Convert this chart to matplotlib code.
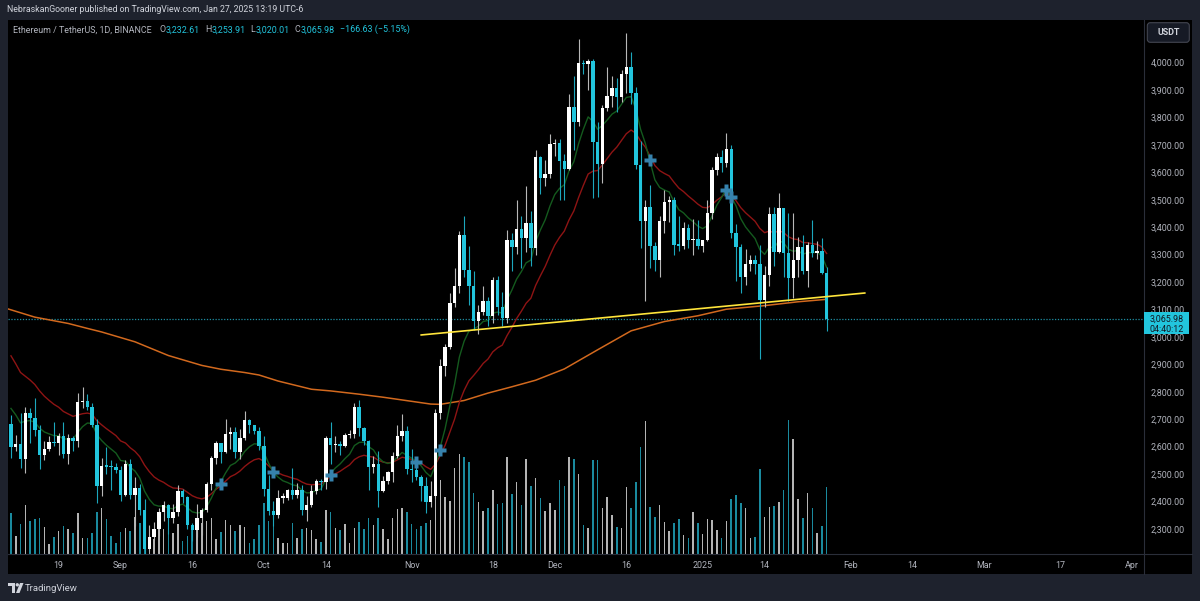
import numpy as np
import pandas as pd
import matplotlib.pyplot as plt
import matplotlib.dates as mdates
from matplotlib.patches import Rectangle, FancyBboxPatch, Polygon, Circle
from matplotlib.ticker import FuncFormatter
from matplotlib.transforms import IdentityTransform

plt.rcParams['font.family'] = ['Roboto', 'DejaVu Sans']

W, H = 1200, 601

# ETH/USDT daily candles, 2024-08-09 .. 2025-01-27
dates = pd.date_range('2024-08-09', '2025-01-27', freq='D')

opens = [
    2681, 2600, 2610, 2555, 2722, 2703, 2662, 2570, 2590, 2615, 2612, 2637, 2573, 2630, 2622, 2762, 2768, 2745, 2680, 2456, 2528, 2527, 2526,
    2513, 2425, 2538, 2423, 2450, 2368, 2225, 2272, 2298, 2360, 2388, 2340, 2360, 2437, 2417, 2315, 2295, 2340, 2370, 2465, 2560, 2613, 2580, 2646, 2653, 2580, 2632, 2697, 2677, 2658,
    2602, 2447, 2364, 2349, 2414, 2414, 2440, 2423, 2440, 2370, 2386, 2437, 2475, 2469, 2630, 2607, 2611, 2603, 2642, 2647, 2745, 2666, 2621, 2524, 2535, 2438, 2475, 2508, 2567, 2640, 2658,
    2518, 2513, 2490, 2458, 2398, 2421, 2722, 2895, 2962, 3125, 3185, 3370, 3245, 3187, 3058, 3091, 3132, 3076, 3207, 3108, 3070, 3354, 3327, 3393, 3361, 3415, 3325, 3656, 3578, 3593,
    3703, 3707, 3643, 3614, 3837, 3785, 4000, 3996, 4005, 3710, 3629, 3835, 3880, 3908, 3875, 3959, 3986, 3890, 3628, 3421, 3475, 3333, 3280, 3421, 3492, 3498, 3334, 3333, 3398, 3352, 3358,
    3332, 3354, 3451, 3607, 3657, 3635, 3686, 3380, 3327, 3219, 3266, 3282, 3265, 3134, 3225, 3449, 3310, 3470, 3306, 3214, 3280, 3328, 3239, 3336, 3306, 3315, 3232.61,
]
highs = [
    2714, 2642, 2721, 2745, 2740, 2778, 2680, 2620, 2640, 2690, 2650, 2690, 2645, 2640, 2795, 2818, 2790, 2760, 2700, 2560, 2600, 2550, 2540,
    2528, 2550, 2555, 2490, 2465, 2407, 2315, 2325, 2375, 2400, 2390, 2390, 2460, 2445, 2420, 2320, 2389, 2375, 2470, 2565, 2620, 2614, 2700, 2670, 2670, 2665, 2728, 2700, 2680, 2670,
    2640, 2495, 2403, 2441, 2430, 2445, 2521, 2467, 2460, 2420, 2460, 2480, 2480, 2640, 2688, 2640, 2620, 2650, 2660, 2760, 2770, 2672, 2625, 2567, 2585, 2494, 2512, 2580, 2680, 2720, 2675,
    2590, 2546, 2495, 2489, 2473, 2738, 2919, 2974, 3160, 3250, 3386, 3441, 3330, 3240, 3115, 3185, 3145, 3220, 3222, 3165, 3390, 3380, 3500, 3440, 3550, 3460, 3682, 3660, 3645, 3740,
    3720, 3720, 3668, 3886, 3950, 4085, 4010, 4014, 4012, 3785, 3845, 3985, 3950, 3943, 3975, 4107, 4040, 3910, 3714, 3500, 3554, 3347, 3440, 3535, 3515, 3510, 3440, 3420, 3410, 3430, 3428,
    3355, 3500, 3620, 3670, 3680, 3745, 3700, 3410, 3340, 3322, 3300, 3300, 3335, 3260, 3474, 3472, 3525, 3470, 3450, 3451, 3365, 3370, 3345, 3426, 3350, 3359, 3253.91,
]
lows = [
    2559, 2583, 2523, 2505, 2612, 2637, 2520, 2550, 2585, 2603, 2570, 2560, 2535, 2585, 2600, 2740, 2735, 2670, 2395, 2421, 2500, 2440, 2505,
    2400, 2418, 2410, 2310, 2350, 2205, 2220, 2260, 2275, 2330, 2280, 2320, 2345, 2393, 2300, 2255, 2272, 2278, 2360, 2440, 2535, 2540, 2577, 2590, 2560, 2555, 2625, 2650, 2645, 2588,
    2420, 2350, 2310, 2338, 2396, 2405, 2410, 2412, 2352, 2330, 2380, 2428, 2440, 2447, 2537, 2580, 2570, 2600, 2630, 2632, 2640, 2605, 2440, 2505, 2380, 2433, 2465, 2470, 2557, 2622, 2500,
    2470, 2479, 2400, 2356, 2380, 2412, 2700, 2857, 2954, 3110, 3160, 3217, 3115, 3025, 3010, 3080, 3040, 3050, 3080, 3040, 3050, 3240, 3302, 3250, 3311, 3260, 3300, 3520, 3550, 3580,
    3660, 3500, 3500, 3610, 3680, 3770, 3960, 3900, 3507, 3511, 3560, 3825, 3840, 3820, 3855, 3890, 3850, 3611, 3323, 3130, 3250, 3240, 3220, 3380, 3420, 3300, 3315, 3320, 3325, 3300, 3320,
    3310, 3350, 3430, 3590, 3600, 3620, 3360, 3205, 3160, 3190, 3240, 3230, 2920, 3110, 3186, 3260, 3305, 3220, 3130, 3141, 3220, 3230, 3183, 3292, 3285, 3230, 3020.01,
]
closes = [
    2600, 2610, 2555, 2722, 2703, 2662, 2570, 2590, 2615, 2612, 2637, 2573, 2630, 2622, 2762, 2768, 2745, 2680, 2456, 2528, 2527, 2526, 2513,
    2425, 2538, 2423, 2450, 2368, 2225, 2272, 2298, 2360, 2388, 2340, 2360, 2437, 2417, 2315, 2295, 2340, 2370, 2465, 2560, 2613, 2580, 2646, 2653, 2580, 2632, 2697, 2677, 2658, 2602,
    2447, 2364, 2349, 2414, 2414, 2440, 2423, 2440, 2370, 2386, 2437, 2475, 2469, 2630, 2607, 2611, 2603, 2642, 2647, 2745, 2666, 2621, 2524, 2535, 2438, 2475, 2508, 2567, 2640, 2658, 2518,
    2513, 2490, 2458, 2398, 2421, 2722, 2895, 2962, 3125, 3185, 3370, 3245, 3187, 3058, 3091, 3132, 3076, 3207, 3108, 3070, 3354, 3327, 3393, 3361, 3415, 3325, 3656, 3578, 3593, 3703,
    3707, 3643, 3614, 3837, 3785, 4000, 3996, 4005, 3710, 3629, 3835, 3880, 3908, 3875, 3959, 3986, 3890, 3628, 3421, 3475, 3333, 3280, 3421, 3492, 3498, 3334, 3333, 3398, 3352, 3358, 3332,
    3354, 3451, 3607, 3657, 3635, 3686, 3380, 3327, 3219, 3266, 3282, 3265, 3134, 3225, 3449, 3310, 3470, 3306, 3214, 3280, 3328, 3239, 3336, 3306, 3315, 3232.61, 3065.98,
]
# volume, thousand ETH
volumes = [
    417, 183, 300, 490, 330, 350, 360, 277, 100, 177, 230, 283, 250, 210, 410, 167, 163, 217, 423, 460, 350, 183, 110,
    227, 267, 233, 377, 317, 433, 183, 150, 330, 250, 350, 210, 300, 133, 183, 267, 277, 317, 330, 367, 150, 223, 343, 290, 233, 290, 277, 117, 150, 290,
    510, 330, 367, 167, 110, 117, 310, 167, 250, 267, 243, 150, 123, 443, 423, 267, 243, 300, 110, 267, 323, 257, 360, 290, 367, 257, 150, 367, 457, 467, 423,
    300, 250, 283, 310, 340, 700, 740, 577, 533, 867, 1000, 973, 923, 617, 523, 433, 460, 643, 500, 510, 973, 607, 723, 490, 950, 683, 760, 567, 433, 510,
    440, 740, 683, 973, 950, 807, 290, 260, 943, 943, 467, 577, 390, 277, 260, 677, 460, 723, 1077, 1333, 477, 373, 493, 327, 230, 317, 350, 190, 167, 427, 310,
    200, 350, 340, 240, 167, 333, 550, 590, 510, 460, 160, 173, 850, 377, 477, 483, 527, 640, 1340, 1157, 557, 360, 617, 467, 217, 283, 673,
]

# EMA seeds (value on 2024-08-08)
ema_fast_seed, ema_slow_seed = 2770, 2964

# slow moving average (orange), sampled from chart
ma_long_dates = ['2024-08-08', '2024-08-14', '2024-08-21', '2024-08-25', '2024-08-28', '2024-09-04',
                 '2024-09-11', '2024-09-18', '2024-09-22', '2024-09-27', '2024-09-30', '2024-10-04',
                 '2024-10-11', '2024-10-15', '2024-10-21', '2024-10-26', '2024-11-01', '2024-11-05',
                 '2024-11-07', '2024-11-12', '2024-11-17', '2024-11-22', '2024-11-27', '2024-12-03',
                 '2024-12-10', '2024-12-17', '2024-12-24', '2024-12-31', '2025-01-06', '2025-01-14',
                 '2025-01-21', '2025-01-27']
ma_long_vals = [3104, 3072, 3049, 3031, 3018, 2982, 2932, 2896, 2882, 2870, 2861, 2839, 2809, 2803,
                2791, 2780, 2765, 2755, 2754, 2768, 2795, 2818, 2842, 2883, 2953, 3022, 3056, 3077,
                3101, 3114, 3128, 3137]

# crossover markers
cross_dates = ['2024-09-22', '2024-10-03', '2024-10-15', '2024-11-02', '2024-11-07',
               '2024-12-21', '2025-01-06', '2025-01-07']
cross_prices = [2463, 2507, 2496, 2543, 2587, 3645, 3535, 3510]

# hand-drawn trend line
trend_dates = ['2024-11-03', '2025-02-04']
trend_prices = [3007, 3160]

tick_dates = ['2024-08-19', '2024-09-01', '2024-09-16', '2024-10-01', '2024-10-14', '2024-11-01',
              '2024-11-18', '2024-12-01', '2024-12-16', '2025-01-01', '2025-01-14', '2025-02-01',
              '2025-02-14', '2025-03-01', '2025-03-17', '2025-04-01']
tick_labels = ['19', 'Sep', '16', 'Oct', '14', 'Nov', '18', 'Dec', '16', '2025', '14', 'Feb',
               '14', 'Mar', '17', 'Apr']
price_ticks = list(range(2300, 4001, 100))

UP, DOWN = '#ffffff', '#22c5dd'
UP_WICK, DOWN_WICK = '#b8b8b8', '#1ca7bd'
TXT = '#b2b5be'


def fx(px):
    return px / W


def fy(py):
    return 1 - py / H


x = mdates.date2num(dates)
o, h, l, c = map(np.array, (opens, highs, lows, closes))
up = c >= o

fig = plt.figure(figsize=(W / 100, H / 100), dpi=100, facecolor='#1e222d')
fig.add_artist(Rectangle((fx(7.5), fy(574)), fx(1191.5) - fx(7.5), fy(19.5) - fy(574),
                         transform=fig.transFigure, facecolor='black', edgecolor='none', zorder=-5))

ax = fig.add_axes([fx(7.5), fy(554.3), fx(1144.3) - fx(7.5), fy(19.5) - fy(554.3)])
ax_vol = ax.twinx()
ax_vol.set_zorder(1)
ax.set_zorder(2)
ax.patch.set_visible(False)
ax_vol.patch.set_visible(False)

# volume
ax_vol.bar(x, volumes, width=0.32, color=np.where(up, '#b4b4b4', '#1a8a9e'), linewidth=0)
ax_vol.set_ylim(0, 5348)
ax_vol.set_yticks([])

# moving averages
closes_s = pd.Series(closes)
ema_fast = pd.concat([pd.Series([ema_fast_seed]), closes_s]).ewm(span=10, adjust=False).mean().iloc[1:]
ema_slow = pd.concat([pd.Series([ema_slow_seed]), closes_s]).ewm(span=21, adjust=False).mean().iloc[1:]
ax.plot(mdates.date2num(pd.to_datetime(ma_long_dates)), ma_long_vals, color='#d2691e', lw=1.1, zorder=2)
ax.plot(x, ema_slow.values, color='#8e1414', lw=1.0, zorder=2)
ax.plot(x, ema_fast.values, color='#145a1e', lw=1.0, zorder=2)

# candles
ax.vlines(x, l, h, colors=np.where(up, UP_WICK, DOWN_WICK), lw=0.8, zorder=3)
body = np.maximum(np.abs(c - o), 4)
ax.bar(x, body, bottom=np.minimum(o, c), width=0.72, color=np.where(up, UP, DOWN),
       linewidth=0, zorder=4)

ax.plot(mdates.date2num(pd.to_datetime(cross_dates)), cross_prices, 'P', color='#3682ad',
        ms=8, mec='none', zorder=6)
ax.plot(mdates.date2num(pd.to_datetime(trend_dates)), trend_prices, color='#ffe53b', lw=1.2, zorder=5)
ax.axhline(closes[-1], color='#1f8fa3', lw=0.9, ls=(0, (1, 1.3)), zorder=1)

x0 = x[0]
ax.set_xlim(x0 - 0.73, x0 + 237.6)
ax.set_ylim(2207.1, 4157.5)

for sp in list(ax.spines.values()) + list(ax_vol.spines.values()):
    sp.set_visible(False)

ax.set_xticks(mdates.date2num(pd.to_datetime(tick_dates)))
ax.set_xticklabels(tick_labels)
ax.tick_params(axis='x', length=0, pad=5, labelsize=6.4, labelcolor=TXT)

ax.yaxis.tick_right()
ax.set_yticks(price_ticks)
ax.yaxis.set_major_formatter(FuncFormatter(lambda v, p: f'{v:,.2f}'))
ax.tick_params(axis='y', length=0, pad=29.3, labelsize=6.4, labelcolor=TXT)
for t in ax.yaxis.get_major_ticks():
    t.label2.set_horizontalalignment('right')

# panel separators
fig.add_artist(plt.Line2D([fx(1144.3)] * 2, [fy(19.5), fy(574)], color='#2a2e39', lw=0.8))
fig.add_artist(plt.Line2D([fx(7.5), fx(1191.5)], [fy(554.3)] * 2, color='#2a2e39', lw=0.8))

# current price label
fig.canvas.draw()
yd = ax.transData.transform((x[-1], closes[-1]))[1]
fig.add_artist(Rectangle((1144.3, yd - 15.7), 44.7, 22, transform=IdentityTransform(),
                         facecolor=DOWN, edgecolor='none', zorder=10))
fig.text(1166.7 / W, yd / H, f'{closes[-1]:,.2f}', ha='center', va='center', fontsize=6.4,
         color='#131722', zorder=11)
fig.text(1166.7 / W, (yd - 11) / H, '04:40:12', ha='center', va='center', fontsize=6.4,
         color='#131722', zorder=11)

# currency box
fig.add_artist(FancyBboxPatch((1147.3, H - 42.3), 42, 19.6, boxstyle='round,pad=0,rounding_size=3',
                              transform=IdentityTransform(), facecolor='#161a25', edgecolor='#434651',
                              lw=0.8, zorder=10))
fig.text(fx(1168.3), fy(32.5), 'USDT', ha='center', va='center', fontsize=6.4, color='#d1d4dc',
         weight='semibold', zorder=11)

# header
fig.text(fx(7), fy(10), 'NebraskanGooner published on TradingView.com, Jan 27, 2025 13:19 UTC-6',
         ha='left', va='center', fontsize=6.3, color='#d1d4dc')

# legend line
chg = closes[-1] - closes[-2]
segments = [
    ('Ethereum / TetherUS, 1D, BINANCE', TXT, 0),
    ('O', TXT, 5.4), (f'{opens[-1]:,.2f}', DOWN, 0.3),
    ('H', TXT, 3.6), (f'{highs[-1]:,.2f}', DOWN, 0.3),
    ('L', TXT, 3.6), (f'{lows[-1]:,.2f}', DOWN, 0.3),
    ('C', TXT, 3.6), (f'{closes[-1]:,.2f}', DOWN, 0.3),
    (f'\u2212{abs(chg):.2f} (\u2212{abs(chg) / closes[-2] * 100:.2f}%)', DOWN, 3.6),
]
prev = fig.text(fx(13), fy(30), segments[0][0], ha='left', va='center', fontsize=6.4, color=segments[0][1])
for seg, col, gap in segments[1:]:
    prev = ax.annotate(seg, xy=(1, 0), xycoords=prev, xytext=(gap, 0), textcoords='offset points',
                       ha='left', va='bottom', fontsize=6.4, color=col, annotation_clip=False)

# footer logo
logo_col = '#d1d4dc'
fig.add_artist(Polygon([(8, H - 583), (15, H - 583), (15, H - 593), (11.5, H - 593), (11.5, H - 586), (8, H - 586)],
                       closed=True, transform=IdentityTransform(), facecolor=logo_col, edgecolor='none'))
fig.add_artist(Circle((17.3, H - 584.8), 1.7, transform=IdentityTransform(), facecolor=logo_col, edgecolor='none'))
fig.add_artist(Polygon([(20, H - 583), (23.5, H - 583), (19.5, H - 593), (16, H - 593)],
                       closed=True, transform=IdentityTransform(), facecolor=logo_col, edgecolor='none'))
fig.text(fx(25), fy(588.3), 'TradingView', ha='left', va='center', fontsize=6.8, color=logo_col)

fig.savefig('out.png', dpi=100, facecolor=fig.get_facecolor())
